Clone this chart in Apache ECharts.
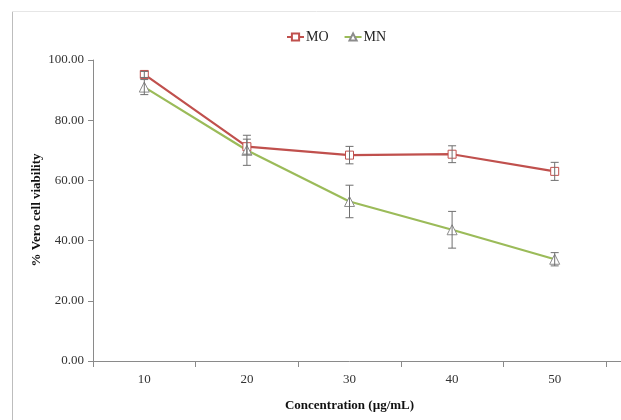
<!DOCTYPE html>
<html>
<head>
<meta charset="utf-8">
<script src="https://cdn.jsdelivr.net/npm/echarts@6/dist/echarts.min.js"></script>
<style>
  html, body { margin: 0; padding: 0; background: #fff; }
  #chart { width: 621px; height: 420px; }
</style>
</head>
<body>
<div id="chart"></div>
<script>
  // concentrations (µg/mL)
  var categories = ['10', '20', '30', '40', '50']
  var moValues = [95.2, 71.2, 68.4, 68.7, 63.0]
  var moErr = [1.0, 2.5, 2.9, 2.8, 3.0]
  var mnValues = [91.0, 70.0, 53.0, 43.6, 33.8]
  var mnErr = [2.5, 5.0, 5.4, 6.1, 2.2]
  var yTicks = [0, 20, 40, 60, 80, 100]

  var serif = '"Liberation Serif", "DejaVu Serif", serif'
  var chart = echarts.init(document.getElementById('chart'))

  function errData(vals, errs) {
    return vals.map(function (v, i) { return [i, v - errs[i], v + errs[i]] })
  }

  function errRender(params, api) {
    var lo = api.coord([api.value(0), api.value(1)])
    var hi = api.coord([api.value(0), api.value(2)])
    var w = 4
    var style = { stroke: '#6f6f6f', lineWidth: 1 }
    return {
      type: 'group',
      children: [
        { type: 'line', shape: { x1: hi[0], y1: hi[1], x2: lo[0], y2: lo[1] }, style: style },
        { type: 'line', shape: { x1: hi[0] - w, y1: hi[1], x2: hi[0] + w, y2: hi[1] }, style: style },
        { type: 'line', shape: { x1: lo[0] - w, y1: lo[1], x2: lo[0] + w, y2: lo[1] }, style: style }
      ]
    }
  }

  var option = {
    animation: false,
    backgroundColor: '#fff',
    graphic: [
      { type: 'line', shape: { x1: 12.5, y1: 11, x2: 12.5, y2: 420 }, style: { stroke: '#bdbdbd', lineWidth: 1 } },
      { type: 'line', shape: { x1: 12, y1: 11.5, x2: 621, y2: 11.5 }, style: { stroke: '#e6e6e6', lineWidth: 1 } },
      // axis line runs on to the right edge as in the source figure
      { type: 'line', shape: { x1: 606, y1: 361.5, x2: 621, y2: 361.5 }, style: { stroke: '#8a8a8a', lineWidth: 1 } },
      // y axis title, placed by hand
      {
        type: 'text', x: 37, y: 210, rotation: Math.PI / 2,
        style: {
          text: '% Vero cell viability', align: 'center', verticalAlign: 'middle',
          fontFamily: serif, fontSize: 13, fontWeight: 'bold', fill: '#111'
        }
      }
    ],
    legend: {
      top: 25,
      left: 281,
      itemWidth: 17,
      itemHeight: 9,
      itemGap: 15,
      textStyle: { fontFamily: serif, fontSize: 14, color: '#222', padding: [0, 0, 0, -3] },
      data: ['MO', 'MN']
    },
    grid: { left: 93, right: 15, top: 60, bottom: 59 },
    xAxis: {
      type: 'category',
      data: categories,
      boundaryGap: true,
      name: 'Concentration (µg/mL)',
      nameLocation: 'middle',
      nameGap: 38,
      nameTextStyle: { fontFamily: serif, fontSize: 13, fontWeight: 'bold', color: '#111' },
      axisLine: { lineStyle: { color: '#8a8a8a' } },
      axisTick: { show: true, alignWithLabel: false, length: 6, inside: false, lineStyle: { color: '#8a8a8a' } },
      axisLabel: { fontFamily: serif, fontSize: 13, color: '#333', margin: 12 },
      splitLine: { show: false }
    },
    yAxis: {
      type: 'value',
      min: yTicks[0],
      max: yTicks[yTicks.length - 1],
      interval: 20,
      axisLine: { show: true, lineStyle: { color: '#8a8a8a' } },
      axisTick: { show: true, length: 5, lineStyle: { color: '#8a8a8a' } },
      axisLabel: {
        fontFamily: serif, fontSize: 13, color: '#333', margin: 9,
        formatter: function (v) { return v.toFixed(2) }
      },
      splitLine: { show: false }
    },
    series: [
      {
        name: 'MO',
        type: 'line',
        data: moValues,
        color: '#c0504d',
        lineStyle: { width: 2.2, color: '#c0504d' },
        symbol: 'rect',
        symbolSize: 8,
        itemStyle: { color: '#fff', borderColor: '#c0504d', borderWidth: 1 },
        z: 3
      },
      {
        name: 'MN',
        type: 'line',
        data: mnValues,
        color: '#9bbb59',
        lineStyle: { width: 2.2, color: '#9bbb59' },
        symbol: 'triangle',
        symbolSize: 10,
        itemStyle: { color: '#fff', borderColor: '#8c8c8c', borderWidth: 1 },
        z: 3
      },
      {
        type: 'custom',
        renderItem: errRender,
        data: errData(moValues, moErr),
        encode: { x: 0, y: [1, 2] },
        silent: true,
        z: 4
      },
      {
        type: 'custom',
        renderItem: errRender,
        data: errData(mnValues, mnErr),
        encode: { x: 0, y: [1, 2] },
        silent: true,
        z: 4
      }
    ]
  }

  chart.setOption(option)
</script>
</body>
</html>
